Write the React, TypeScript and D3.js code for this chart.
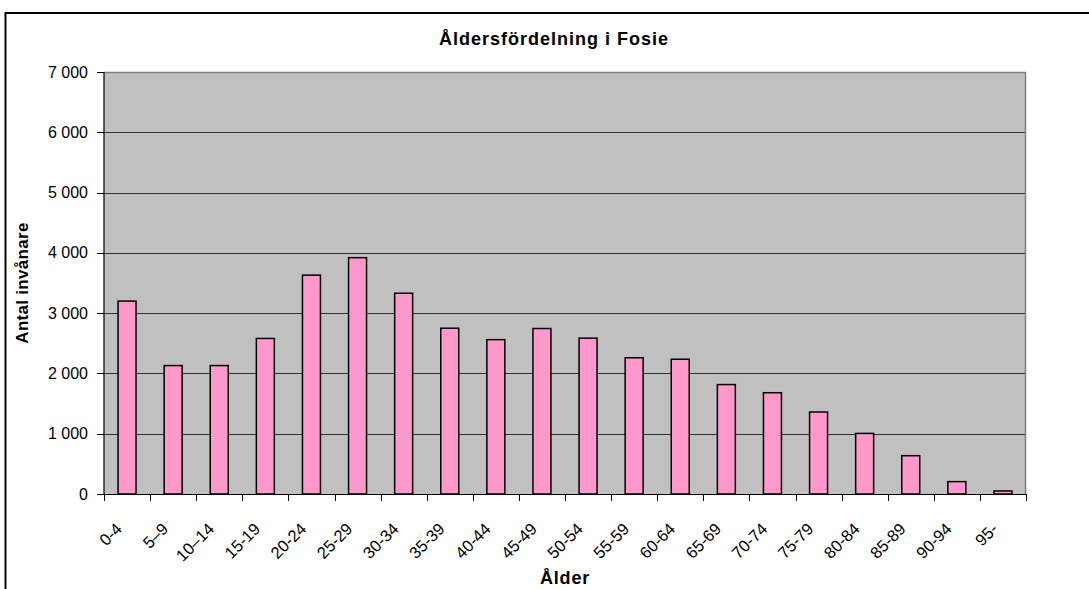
import React from "react";
import * as d3 from "d3";

const categories = ["0-4", "5–9", "10–14", "15-19", "20-24", "25-29", "30-34", "35-39", "40-44", "45-49", "50-54", "55-59", "60-64", "65-69", "70-74", "75-79", "80-84", "85-89", "90-94", "95-"];
const values = [3200, 2130, 2130, 2580, 3630, 3920, 3330, 2750, 2560, 2745, 2585, 2260, 2235, 1815, 1680, 1360, 1005, 635, 205, 50];
const yTicks = [0, 1000, 2000, 3000, 4000, 5000, 6000, 7000];
const title = "Åldersfördelning i Fosie";
const xTitle = "Ålder";
const yTitle = "Antal invånare";

const W = 1089, H = 589;
const L = 104, R = 1026, T = 72, B = 494;
const FONT = "'Liberation Sans', Arial, sans-serif";

export default function App() {
  const x = d3.scaleBand<string>().domain(categories).range([L, R]).paddingInner(0.61).paddingOuter(0.305);
  const y = d3.scaleLinear().domain([0, 7000]).range([B, T]);
  const step = x.step();
  const fmt = d3.formatLocale({ thousands: " ", grouping: [3], decimal: ",", currency: ["", ""] }).format(",");
  const bounds = d3.range(categories.length + 1).map((i) => L + i * step);

  return (
    <svg width={W} height={H} style={{ position: "absolute", left: 0, top: 0, display: "block", background: "#fff" }}>
      <rect x={5.5} y={13} width={W + 20} height={H + 20} fill="#fff" stroke="#000" strokeWidth={2} />
      <rect x={L} y={T} width={R - L} height={B - T} fill="#C0C0C0" />
      {yTicks.filter((t) => t > 0).map((t) => (
        <line key={t} x1={L} x2={R} y1={Math.round(y(t)) + 0.5} y2={Math.round(y(t)) + 0.5} stroke="#333" strokeWidth={1} />
      ))}
      <line x1={L} x2={R} y1={T + 0.5} y2={T + 0.5} stroke="#808080" strokeWidth={1.5} />
      <line x1={R - 0.5} x2={R - 0.5} y1={T} y2={B} stroke="#808080" strokeWidth={1.5} />
      {categories.map((c, i) => (
        <rect key={c} x={x(c)} y={y(values[i])} width={x.bandwidth()} height={B - y(values[i])} fill="#FF99CC" stroke="#000" strokeWidth={1.5} />
      ))}
      <line x1={L} x2={L} y1={T} y2={B} stroke="#000" strokeWidth={1.2} />
      <line x1={L} x2={R + 1} y1={B + 0.5} y2={B + 0.5} stroke="#000" strokeWidth={1.2} />
      {yTicks.map((t) => (
        <g key={t}>
          <line x1={L - 7} x2={L} y1={Math.round(y(t)) + 0.5} y2={Math.round(y(t)) + 0.5} stroke="#000" strokeWidth={1} />
          <text x={88} y={y(t) + 5.5} textAnchor="end" fontFamily={FONT} fontSize={16} fill="#000">{fmt(t)}</text>
        </g>
      ))}
      {bounds.map((b, i) => (
        <line key={i} x1={Math.round(b) + 0.5} x2={Math.round(b) + 0.5} y1={B} y2={B + 7} stroke="#000" strokeWidth={1} />
      ))}
      {categories.map((c) => {
        const cx = (x(c) as number) + x.bandwidth() / 2 - 4;
        const cy = 530;
        return (
          <text key={c} x={cx} y={cy} transform={`rotate(-45 ${cx} ${cy})`} textAnchor="end" fontFamily={FONT} fontSize={16.5} fill="#000">{c}</text>
        );
      })}
      <text x={554} y={45} textAnchor="middle" fontFamily={FONT} fontSize={18} fontWeight="bold" letterSpacing={1} fill="#000">{title}</text>
      <text x={(L + R) / 2} y={584} textAnchor="middle" fontFamily={FONT} fontSize={18} fontWeight="bold" letterSpacing={0.8} fill="#000">{xTitle}</text>
      <text x={28} y={(T + B) / 2} transform={`rotate(-90 28 ${(T + B) / 2})`} textAnchor="middle" fontFamily={FONT} fontSize={17} fontWeight="bold" letterSpacing={0.3} fill="#000">{yTitle}</text>
    </svg>
  );
}
